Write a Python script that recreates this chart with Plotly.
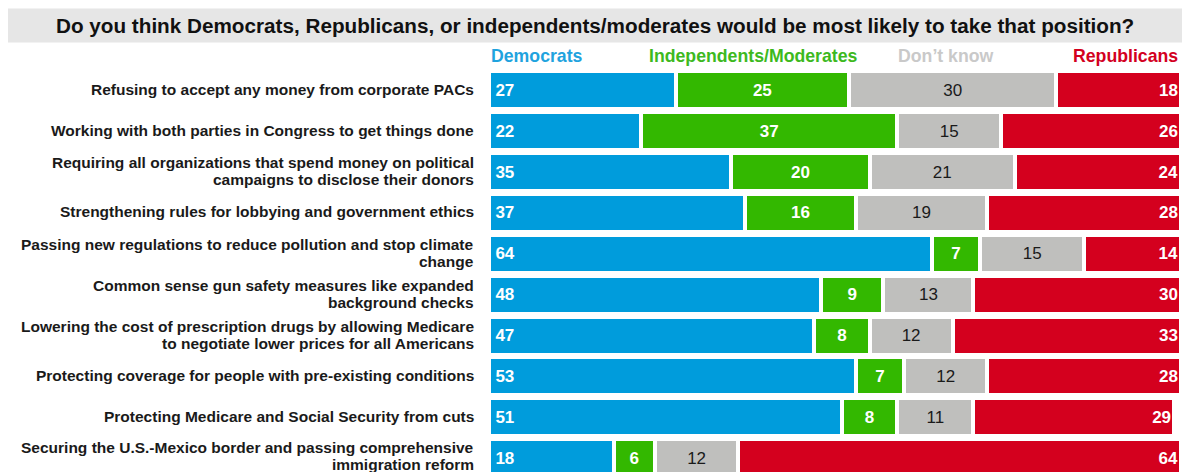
import plotly.graph_objects as go

title_text = "Do you think Democrats, Republicans, or independents/moderates would be most likely to take that position?"

items = [
    "Refusing to accept any money from corporate PACs",
    "Working with both parties in Congress to get things done",
    "Requiring all organizations that spend money on political<br>campaigns to disclose their donors",
    "Strengthening rules for lobbying and government ethics",
    "Passing new regulations to reduce pollution and stop climate<br>change",
    "Common sense gun safety measures like expanded<br>background checks",
    "Lowering the cost of prescription drugs by allowing Medicare<br>to negotiate lower prices for all Americans",
    "Protecting coverage for people with pre-existing conditions",
    "Protecting Medicare and Social Security from cuts",
    "Securing the U.S.-Mexico border and passing comprehensive<br>immigration reform",
]

series_names = ["Democrats", "Independents/Moderates", "Don\u2019t know", "Republicans"]
democrats = [27, 22, 35, 37, 64, 48, 47, 53, 51, 18]
independents = [25, 37, 20, 16, 7, 9, 8, 7, 8, 6]
dont_know = [30, 15, 21, 19, 15, 13, 12, 12, 11, 12]
republicans = [18, 26, 24, 28, 14, 30, 33, 28, 29, 64]

W, H = 1182, 472
left, right, top, bottom = 489, 1, 69.5, 0
pw = W - left - right
ph = H - top - bottom
row_px = 40.9
y_max = -0.5 + ph / row_px

def px(x):
    return (x - left) / pw

def py(y):
    return (H - bottom - y) / ph

bar_colors = ["#009CDC", "#33B800", "#BFBFBD", "#D4001E"]
head_colors = ["#1FA3DE", "#3DB91E", "#C9C9C9", "#D3001E"]
text_colors = ["white", "white", "#1a1a1a", "white"]
anchors = ["start", "middle", "middle", "end"]
prefix = ["\u2009", "", "", ""]
FONT = "Liberation Sans, Arial, sans-serif"

cats = list(range(len(items)))

fig = go.Figure()
for name, vals, col, tc, anc, pre in zip(series_names, [democrats, independents, dont_know, republicans],
                                         bar_colors, text_colors, anchors, prefix):
    bold = tc == "white"
    fig.add_trace(go.Bar(
        y=cats, x=vals, orientation="h", name=name,
        marker=dict(color=col, line=dict(color="white", width=4)),
        text=[f"<b>{pre}{v}</b>" if bold else str(v) for v in vals],
        textposition="inside", insidetextanchor=anc,
        textfont=dict(color=tc, size=17, family=FONT),
        constraintext="none", width=0.93,
        hoverinfo="skip",
    ))

fig.update_layout(
    barmode="stack",
    width=W, height=H,
    margin=dict(l=left, r=right, t=top, b=bottom, pad=0),
    paper_bgcolor="white", plot_bgcolor="white",
    showlegend=False,
    font=dict(family=FONT),
    xaxis=dict(range=[0, 100], visible=False, fixedrange=True),
    yaxis=dict(range=[y_max, -0.5], visible=False, fixedrange=True),
)

# category labels, one annotation per line
line_h = 17
for i, label in enumerate(items):
    lines = label.split("<br>")
    n = len(lines)
    extra = 2 if i == len(items) - 1 else 1
    for j, ln in enumerate(lines):
        fig.add_annotation(xref="paper", yref="y", x=0, y=i, text=f"<b>{ln}</b>",
                           showarrow=False, xanchor="right", yanchor="middle",
                           xshift=-13, yshift=((n - 1) / 2 - j) * line_h + extra,
                           font=dict(size=15.5, color="#1a1a1a", family=FONT))

# title bar
fig.add_shape(type="rect", xref="paper", yref="paper",
              x0=px(8), x1=px(1182), y0=py(42), y1=py(8),
              fillcolor="#E6E6E6", line=dict(width=0), layer="below")
fig.add_annotation(xref="paper", yref="paper", x=px(595), y=py(25),
                   text=f"<b>{title_text}</b>", showarrow=False,
                   xanchor="center", yanchor="middle",
                   font=dict(size=20.7, color="#111111", family=FONT))

# column headers
head_px = [489, 753, 946, 1180]
head_anchor = ["left", "center", "center", "right"]
for name, hx, ha, hc in zip(series_names, head_px, head_anchor, head_colors):
    fig.add_annotation(xref="paper", yref="paper", x=px(hx), y=py(55), text=f"<b>{name}</b>",
                       showarrow=False, xanchor=ha, yanchor="middle",
                       font=dict(size=17.7, color=hc, family=FONT))

fig.write_html("out.html")
